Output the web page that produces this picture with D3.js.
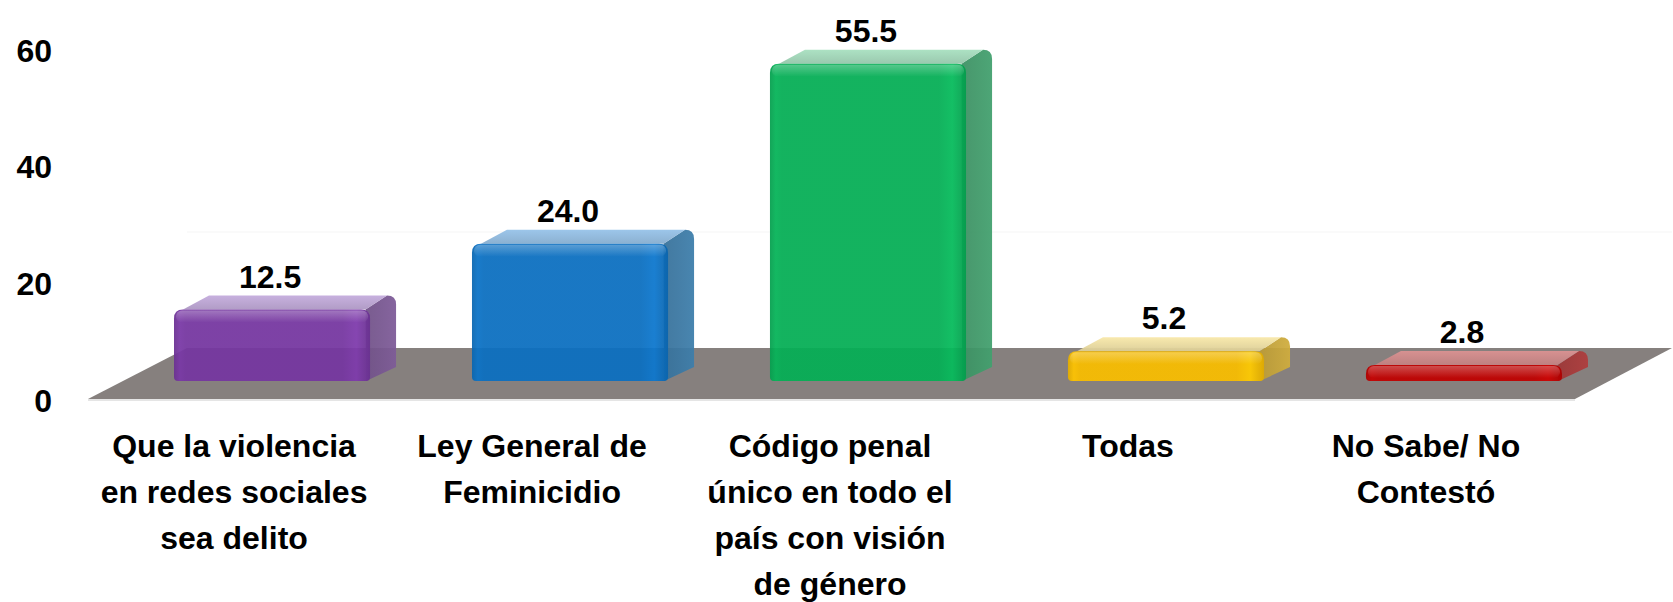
<!DOCTYPE html>
<html>
<head>
<meta charset="utf-8">
<script src="https://cdn.jsdelivr.net/npm/d3@7"></script>
<style>
  html, body { margin: 0; padding: 0; background: #ffffff; }
  svg { display: block; }
  text { font-family: "Liberation Sans", Arial, sans-serif; font-weight: bold; fill: #000; }
</style>
</head>
<body>
<svg id="chart" width="1673" height="602"></svg>
<script>
// Categories (line breaks marked with "\n") and their percentages
const categories = [
  "Que la violencia\nen redes sociales\nsea delito",
  "Ley General de\nFeminicidio",
  "Código penal\núnico en todo el\npaís con visión\nde género",
  "Todas",
  "No Sabe/ No\nContestó"
];
const values = [12.5, 24.0, 55.5, 5.2, 2.8];
const tickValues = [0, 20, 40, 60];
const wallGridValues = [20];

// Colour palette per bar: front, side and top faces
const frontColors = ["#7536a0", "#0b6fc0", "#05ae55", "#f8bd00", "#bf0000"];
const sideColors  = ["#775690", "#3a77a2", "#3f9868", "#c5a43a", "#a63a3a"];
const topColors   = ["#b39dca", "#8ab2d5", "#9acdb0", "#e3d49b", "#c88686"];

const W = 1673, H = 602;
const svg = d3.select("#chart");
const defs = svg.append("defs");

// Scales: bar fronts, value axis, back wall
const x = d3.scaleBand().domain(categories).range([174, 1562]).paddingInner(0.342).paddingOuter(0);
const y = d3.scaleLinear().domain([0, 60]).range([381, 38]);
const yAxisScale = d3.scaleLinear().domain([0, 60]).range([401, 51]);
const yWall = d3.scaleLinear().domain([0, 60]).range([348, 0]);

// 3-D depth offset of each bar
const depthX = 26, depthY = -14;

// Floor geometry
const floorTop = 348, floorBottom = 399;
const floorPts = [[88, floorBottom], [1575, floorBottom], [1672, floorTop], [187, floorTop]];

// Back wall gridline (very faint)
svg.append("g").selectAll("line")
  .data(wallGridValues)
  .join("line")
  .attr("x1", 187).attr("x2", 1672)
  .attr("y1", d => yWall(d)).attr("y2", d => yWall(d))
  .attr("stroke", "#f5f5f5").attr("stroke-width", 1.2);

// Floor
svg.append("line")
  .attr("x1", 88).attr("x2", 1575).attr("y1", floorBottom + 1).attr("y2", floorBottom + 1)
  .attr("stroke", "#dcdcdc").attr("stroke-width", 1.5);
svg.append("path")
  .attr("d", d3.line()(floorPts) + "Z")
  .attr("fill", "#86807e");

// Gradients per bar
categories.forEach((c, i) => {
  const base = d3.color(frontColors[i]);
  const gF = defs.append("linearGradient").attr("id", "front" + i)
    .attr("x1", "0").attr("x2", "1").attr("y1", "0").attr("y2", "0");
  [[0, base.darker(0.25)], [0.03, base.brighter(0.1)], [0.06, base],
   [0.86, base], [0.93, base.brighter(0.2)], [1, base.darker(0.3)]]
    .forEach(([o, col]) => gF.append("stop").attr("offset", o).attr("stop-color", col));

  const gT = defs.append("linearGradient").attr("id", "top" + i)
    .attr("x1", "0").attr("x2", "0").attr("y1", "1").attr("y2", "0");
  const tc = d3.color(topColors[i]);
  gT.append("stop").attr("offset", 0).attr("stop-color", tc.darker(0.1));
  gT.append("stop").attr("offset", 1).attr("stop-color", tc.brighter(0.25));

  const gS = defs.append("linearGradient").attr("id", "side" + i)
    .attr("x1", "0").attr("x2", "1").attr("y1", "0").attr("y2", "0");
  const sc = d3.color(sideColors[i]);
  gS.append("stop").attr("offset", 0).attr("stop-color", sc.darker(0.15));
  gS.append("stop").attr("offset", 0.5).attr("stop-color", sc);
  gS.append("stop").attr("offset", 1).attr("stop-color", sc.brighter(0.15));
});
const gHi = defs.append("linearGradient").attr("id", "topHighlight")
  .attr("x1", "0").attr("x2", "0").attr("y1", "0").attr("y2", "1");
gHi.append("stop").attr("offset", 0).attr("stop-color", "#fff").attr("stop-opacity", 0.28);
gHi.append("stop").attr("offset", 1).attr("stop-color", "#fff").attr("stop-opacity", 0);

// Bars
const r = 9, rb = 4;
const bars = svg.append("g").selectAll("g.bar")
  .data(values.map((v, i) => ({ v, i, c: categories[i] })))
  .join("g").attr("class", "bar");

bars.each(function (d) {
  const g = d3.select(this);
  const x0 = x(d.c), w = x.bandwidth();
  const x1 = x0 + w;
  const top = y(d.v), base = y(0);

  // right side face
  const side = d3.path();
  side.moveTo(x1 - r / 2, top);
  side.lineTo(x1 + depthX - r, top + depthY);
  side.quadraticCurveTo(x1 + depthX, top + depthY, x1 + depthX, top + depthY + r);
  side.lineTo(x1 + depthX, base + depthY);
  side.lineTo(x1 - rb, base);
  side.closePath();
  g.append("path").attr("d", side.toString())
    .attr("fill", `url(#side${d.i})`).attr("fill-opacity", 0.94);

  // top face
  const tp = d3.path();
  tp.moveTo(x0 + r, top);
  tp.lineTo(x0 + r + depthX, top + depthY);
  tp.lineTo(x1 + depthX - r, top + depthY);
  tp.lineTo(x1 - r / 2, top);
  tp.closePath();
  g.append("path").attr("d", tp.toString())
    .attr("fill", `url(#top${d.i})`).attr("fill-opacity", 0.95);

  // front face with rounded top corners
  const fr = d3.path();
  fr.moveTo(x0, base - rb);
  fr.lineTo(x0, top + r);
  fr.quadraticCurveTo(x0, top, x0 + r, top);
  fr.lineTo(x1 - r, top);
  fr.quadraticCurveTo(x1, top, x1, top + r);
  fr.lineTo(x1, base - rb);
  fr.quadraticCurveTo(x1, base, x1 - rb, base);
  fr.lineTo(x0 + rb, base);
  fr.quadraticCurveTo(x0, base, x0, base - rb);
  fr.closePath();
  g.append("path").attr("d", fr.toString())
    .attr("fill", `url(#front${d.i})`).attr("fill-opacity", 0.94);

  // soft bevel highlight along the top edge
  g.append("rect")
    .attr("x", x0 + 2).attr("y", top + 1)
    .attr("width", w - 4).attr("height", Math.min(12, base - top - 2))
    .attr("rx", 6)
    .attr("fill", "url(#topHighlight)");
});

// Value labels above the bars
const fmt = d3.format(".1f");
svg.append("g").selectAll("text")
  .data(values.map((v, i) => ({ v, c: categories[i] })))
  .join("text")
  .attr("x", d => x(d.c) + x.bandwidth() / 2 - 2)
  .attr("y", d => y(d.v) + depthY - 8)
  .attr("text-anchor", "middle")
  .attr("font-size", 32)
  .text(d => fmt(d.v));

// Value axis (labels only)
const axis = svg.append("g")
  .attr("transform", "translate(52,0)")
  .call(d3.axisLeft(yAxisScale).tickValues(tickValues).tickSize(0).tickPadding(0));
axis.select(".domain").remove();
axis.selectAll("text")
  .attr("font-size", 32)
  .attr("font-family", "'Liberation Sans', Arial, sans-serif")
  .attr("font-weight", "bold")
  .attr("fill", "#000");

// Category labels under the floor
const labelOffset = -38, firstLine = 457, lineGap = 46;
const catLabels = svg.append("g").selectAll("text")
  .data(categories)
  .join("text")
  .attr("text-anchor", "middle")
  .attr("font-size", 32)
  .attr("transform", d => `translate(${x(d) + x.bandwidth() / 2 + labelOffset},${firstLine})`);
catLabels.selectAll("tspan")
  .data(d => d.split("\n"))
  .join("tspan")
  .attr("x", 0)
  .attr("y", (d, i) => i * lineGap)
  .text(d => d);
</script>
</body>
</html>
